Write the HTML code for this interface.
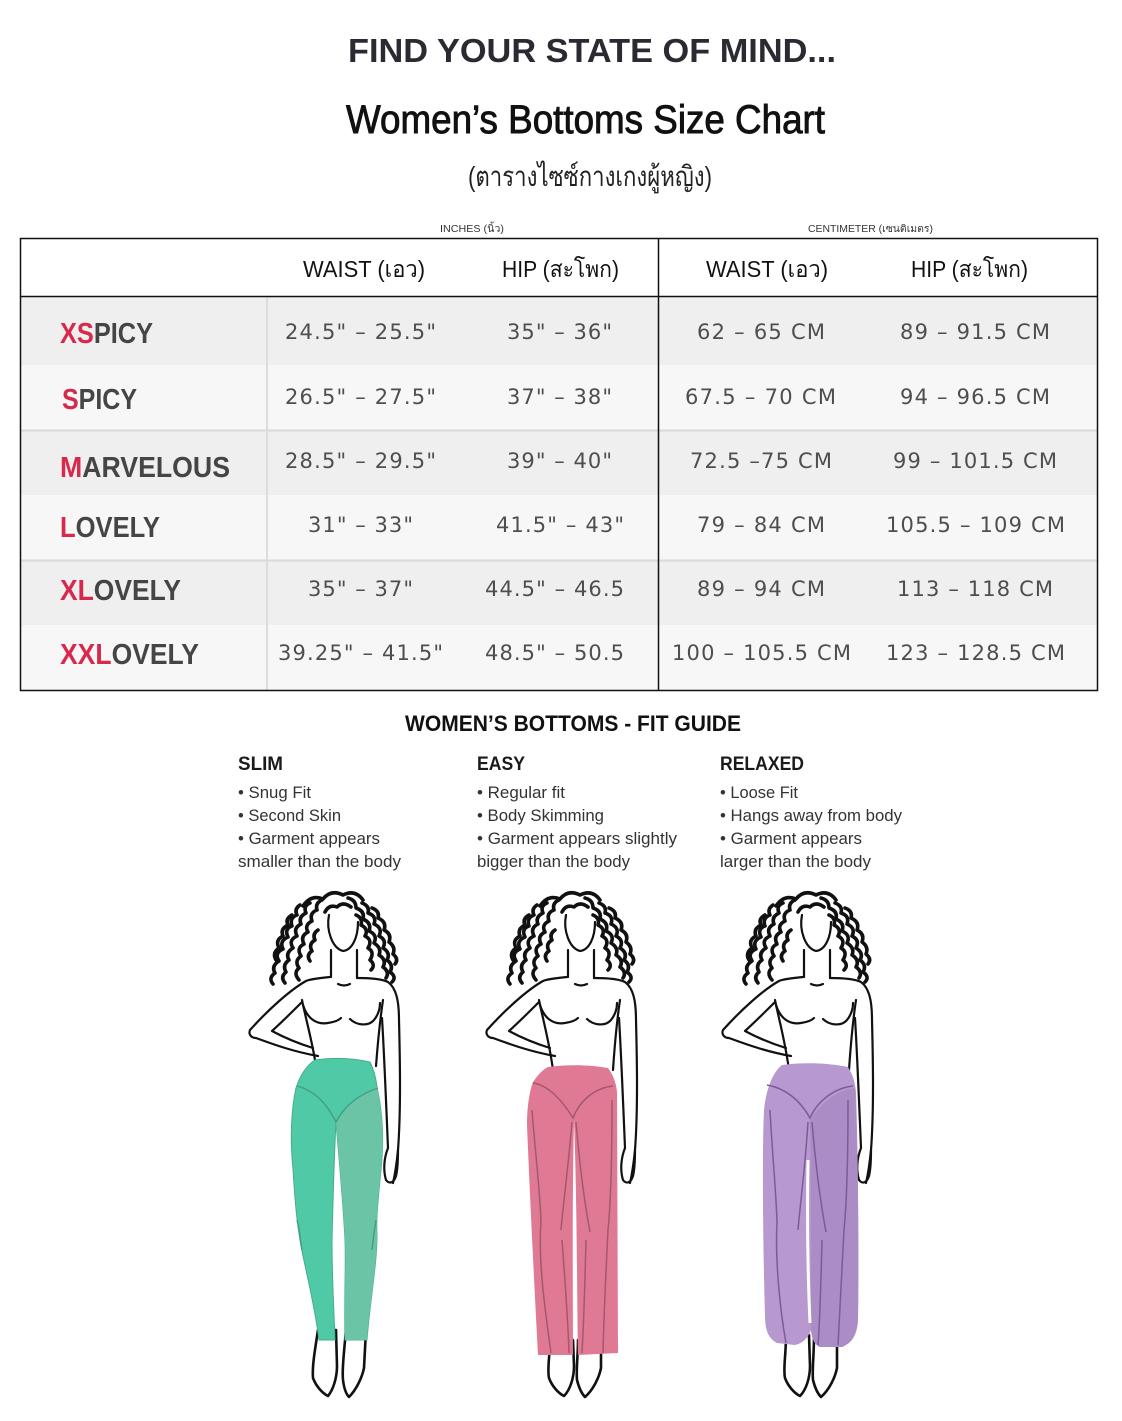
<!DOCTYPE html>
<html>
<head>
<meta charset="utf-8">
<style>
html,body{margin:0;padding:0;background:#fff;}
svg{display:block;}
</style>
</head>
<body>
<svg width="1122" height="1421" viewBox="0 0 1122 1421" xmlns="http://www.w3.org/2000/svg">
<rect x="0" y="0" width="1122" height="1421" fill="#ffffff"/>

<!-- Titles -->
<text x="348" y="62" font-family="Liberation Sans, sans-serif" font-weight="bold" font-size="33" fill="#2a2a33" textLength="488" lengthAdjust="spacingAndGlyphs">FIND YOUR STATE OF MIND...</text>
<text x="346" y="133" font-family="Liberation Sans, sans-serif" font-size="40" fill="#111" stroke="#111" stroke-width="0.9" textLength="479" lengthAdjust="spacingAndGlyphs">Women’s Bottoms  Size Chart</text>
<text x="468" y="186" font-family="Liberation Sans, 'Noto Sans CJK SC', sans-serif" font-size="28" fill="#222" textLength="244" lengthAdjust="spacingAndGlyphs">(ตารางไซซ์กางเกงผู้หญิง)</text>

<text x="440" y="232" font-family="Liberation Sans, 'Noto Sans CJK SC', sans-serif" font-size="10" fill="#333" textLength="64" lengthAdjust="spacingAndGlyphs">INCHES (นิ้ว)</text>
<text x="808" y="232" font-family="Liberation Sans, 'Noto Sans CJK SC', sans-serif" font-size="10" fill="#333" textLength="125" lengthAdjust="spacingAndGlyphs">CENTIMETER (เซนติเมตร)</text>

<!-- Table body backgrounds -->
<rect x="21" y="297" width="1076" height="68" fill="#efefef"/>
<rect x="21" y="365" width="1076" height="65" fill="#f7f7f7"/>
<rect x="21" y="431" width="1076" height="64" fill="#efefef"/>
<rect x="21" y="495" width="1076" height="65" fill="#f7f7f7"/>
<rect x="21" y="561" width="1076" height="64" fill="#efefef"/>
<rect x="21" y="625" width="1076" height="65" fill="#f7f7f7"/>
<line x1="21" y1="430.5" x2="1097" y2="430.5" stroke="#dadada" stroke-width="2"/>
<line x1="21" y1="560.5" x2="1097" y2="560.5" stroke="#dadada" stroke-width="2"/>
<line x1="267" y1="297" x2="267" y2="690" stroke="#dcdcdc" stroke-width="2"/>

<!-- Table borders -->
<rect x="20.5" y="238.5" width="1077" height="452" fill="none" stroke="#111" stroke-width="1.5"/>
<line x1="658.5" y1="238" x2="658.5" y2="691" stroke="#111" stroke-width="1.5"/>
<line x1="20" y1="296.5" x2="1098" y2="296.5" stroke="#111" stroke-width="1.5"/>

<!-- Header -->
<g font-family="Liberation Sans, 'Noto Sans CJK SC', sans-serif" font-size="23" fill="#111">
<text x="303" y="277" textLength="122" lengthAdjust="spacingAndGlyphs">WAIST (เอว)</text>
<text x="502" y="277" textLength="117" lengthAdjust="spacingAndGlyphs">HIP (สะโพก)</text>
<text x="706" y="277" textLength="122" lengthAdjust="spacingAndGlyphs">WAIST (เอว)</text>
<text x="911" y="277" textLength="117" lengthAdjust="spacingAndGlyphs">HIP (สะโพก)</text>
</g>

<!-- Labels -->
<g font-family="Liberation Sans, sans-serif" font-weight="bold" font-size="29" fill="#454545">
<text x="60" y="343" textLength="93" lengthAdjust="spacingAndGlyphs"><tspan fill="#d8284c">XS</tspan>PICY</text>
<text x="62" y="409" textLength="75" lengthAdjust="spacingAndGlyphs"><tspan fill="#d8284c">S</tspan>PICY</text>
<text x="60" y="477" textLength="170" lengthAdjust="spacingAndGlyphs"><tspan fill="#d8284c">M</tspan>ARVELOUS</text>
<text x="60" y="537" textLength="100" lengthAdjust="spacingAndGlyphs"><tspan fill="#d8284c">L</tspan>OVELY</text>
<text x="60" y="600" textLength="121" lengthAdjust="spacingAndGlyphs"><tspan fill="#d8284c">XL</tspan>OVELY</text>
<text x="60" y="664" textLength="139" lengthAdjust="spacingAndGlyphs"><tspan fill="#d8284c">XXL</tspan>OVELY</text>
</g>

<!-- Values -->
<g font-family="DejaVu Sans, sans-serif" font-size="21" fill="#4e4e4e">
<text x="285" y="339" textLength="151">24.5" – 25.5"</text>
<text x="507" y="339" textLength="105">35" – 36"</text>
<text x="697" y="339" textLength="128">62 – 65 CM</text>
<text x="900" y="339" textLength="150">89 – 91.5 CM</text>

<text x="285" y="404" textLength="151">26.5" – 27.5"</text>
<text x="507" y="404" textLength="105">37" – 38"</text>
<text x="685" y="404" textLength="151">67.5 – 70 CM</text>
<text x="900" y="404" textLength="150">94 – 96.5 CM</text>

<text x="285" y="468" textLength="151">28.5" – 29.5"</text>
<text x="507" y="468" textLength="105">39" – 40"</text>
<text x="690" y="468" textLength="142">72.5 –75 CM</text>
<text x="893" y="468" textLength="164">99 – 101.5 CM</text>

<text x="308" y="532" textLength="105">31" – 33"</text>
<text x="496" y="532" textLength="128">41.5" – 43"</text>
<text x="697" y="532" textLength="128">79 – 84 CM</text>
<text x="886" y="532" textLength="179">105.5 – 109 CM</text>

<text x="308" y="596" textLength="105">35" – 37"</text>
<text x="485" y="596" textLength="139">44.5" – 46.5</text>
<text x="697" y="596" textLength="128">89 – 94 CM</text>
<text x="897" y="596" textLength="156">113 – 118 CM</text>

<text x="278" y="660" textLength="165">39.25" – 41.5"</text>
<text x="485" y="660" textLength="139">48.5" – 50.5</text>
<text x="672" y="660" textLength="179">100 – 105.5 CM</text>
<text x="886" y="660" textLength="179">123 – 128.5 CM</text>
</g>

<!-- Fit guide -->
<text x="405" y="731" font-family="Liberation Sans, sans-serif" font-weight="bold" font-size="22" fill="#111" textLength="336" lengthAdjust="spacingAndGlyphs">WOMEN’S BOTTOMS -  FIT GUIDE</text>
<g font-family="Liberation Sans, sans-serif" font-weight="bold" font-size="19" fill="#1a1a1a">
<text x="238" y="770" textLength="45" lengthAdjust="spacingAndGlyphs">SLIM</text>
<text x="477" y="770" textLength="48" lengthAdjust="spacingAndGlyphs">EASY</text>
<text x="720" y="770" textLength="84" lengthAdjust="spacingAndGlyphs">RELAXED</text>
</g>
<g font-family="Liberation Sans, sans-serif" font-size="16.5" fill="#333">
<text x="238" y="798" textLength="73" lengthAdjust="spacingAndGlyphs">• Snug Fit</text>
<text x="238" y="821" textLength="103" lengthAdjust="spacingAndGlyphs">• Second Skin</text>
<text x="238" y="844" textLength="142" lengthAdjust="spacingAndGlyphs">• Garment appears</text>
<text x="238" y="867" textLength="163" lengthAdjust="spacingAndGlyphs">smaller than the body</text>

<text x="477" y="798" textLength="88" lengthAdjust="spacingAndGlyphs">• Regular fit</text>
<text x="477" y="821" textLength="127" lengthAdjust="spacingAndGlyphs">• Body Skimming</text>
<text x="477" y="844" textLength="200" lengthAdjust="spacingAndGlyphs">• Garment appears slightly</text>
<text x="477" y="867" textLength="153" lengthAdjust="spacingAndGlyphs">bigger than the body</text>

<text x="720" y="798" textLength="78" lengthAdjust="spacingAndGlyphs">• Loose Fit</text>
<text x="720" y="821" textLength="182" lengthAdjust="spacingAndGlyphs">• Hangs away from body</text>
<text x="720" y="844" textLength="142" lengthAdjust="spacingAndGlyphs">• Garment appears</text>
<text x="720" y="867" textLength="151" lengthAdjust="spacingAndGlyphs">larger than the body</text>
</g>

<!-- Figure 1 body -->
<g fill="none" stroke="#111" stroke-linecap="round" stroke-linejoin="round">
  <g stroke-width="3.6">
    <path d="M300,905 q-6,4 -3,10 q-8,3 -5,11 q-8,3 -4,11 q-9,4 -5,12 q-9,4 -4,12 q-8,5 -4,12 q-7,5 -2,11"/>
    <path d="M310,903 q-7,3 -4,10 q-8,4 -5,11 q-8,4 -4,12 q-9,4 -4,12 q-8,5 -4,12 q-7,5 -3,12 q-6,5 -1,11"/>
    <path d="M322,900 q-7,3 -5,10 q-8,3 -5,11 q-8,4 -4,11 q-8,4 -4,12 q-8,4 -3,12 q-7,5 -2,12 q-6,5 0,12"/>
    <path d="M348,898 q8,2 8,10 q9,3 7,11 q9,4 6,12 q9,4 5,12 q8,5 5,12 q8,5 4,12 q7,5 3,11"/>
    <path d="M362,903 q8,3 6,10 q9,3 6,11 q9,4 5,12 q8,4 4,12 q8,5 4,12 q7,5 3,12 q7,5 2,10"/>
    <path d="M356,915 q7,3 5,10 q8,4 4,11 q8,4 3,12 q7,4 2,12 q6,5 1,10"/>
    <path d="M372,908 q8,3 6,10 q9,4 6,12 q8,4 5,12 q7,5 4,12 q6,5 2,10"/>
    <path d="M292,915 q-7,4 -4,10 q-8,4 -5,11 q-8,4 -4,12 q-7,5 -3,12"/>
    <path d="M303,906 q8,-12 20,-7 q8,-10 20,-4 q12,-6 20,5"/>
    <path d="M325,912 q4,-8 12,-5 q6,-6 14,0"/>
    <path d="M318,930 q-6,4 -3,10 q-7,4 -3,11 q-6,4 -2,10"/>
  </g>
  <g stroke-width="2.2">
    <path d="M329,915 C326,930 332,948 343,951 C352,950 358,938 358,922"/>
    <path d="M331,950 L331,977"/>
    <path d="M357,950 L357,978"/>
    <path d="M330,977 C320,978 310,979 306,981 C290,990 268,1010 250,1030 C248,1035 252,1038 256,1038 C275,1045 295,1052 318,1056"/>
    <path d="M302,1002 C292,1012 282,1022 272,1031 C285,1038 300,1044 313,1048"/>
    <path d="M302,1000 C306,1020 312,1040 316,1066"/>
    <path d="M357,978 C370,978 382,979 388,982 C396,988 399,1000 399,1020 C400,1060 401,1110 398,1150 C397,1160 396,1170 393,1183"/>
    <path d="M382,1018 C384,1050 386,1100 388,1148"/>
    <path d="M383,1000 C380,1020 378,1040 376,1066"/>
    <path d="M388,1148 C384,1158 383,1170 386,1180 C390,1185 394,1182 396,1176 C398,1168 398,1158 398,1150"/>
    <path d="M303,1005 C307,1018 316,1025 328,1023 C335,1022 339,1020 341,1018"/>
    <path d="M350,1019 C356,1025 368,1027 374,1020 C378,1015 380,1010 380,1003"/>
    <path d="M338,984 q6,3 12,0"/>
  </g>
  <g stroke-width="2.6" fill="#fff">
    <path d="M318,1330 C315,1350 312,1366 313,1378 C316,1386 322,1393 328,1396 C333,1390 337,1378 337,1366 L336,1330 Z"/>
    <path d="M346,1330 C344,1352 342,1370 343,1380 C344,1388 346,1394 349,1397 C356,1390 362,1378 364,1368 L366,1330 Z"/>
  </g>
</g>
<!-- Figure 2 body -->
<g transform="translate(237,0)" fill="none" stroke="#111" stroke-linecap="round" stroke-linejoin="round">
  <g stroke-width="3.6">
    <path d="M300,905 q-6,4 -3,10 q-8,3 -5,11 q-8,3 -4,11 q-9,4 -5,12 q-9,4 -4,12 q-8,5 -4,12 q-7,5 -2,11"/>
    <path d="M310,903 q-7,3 -4,10 q-8,4 -5,11 q-8,4 -4,12 q-9,4 -4,12 q-8,5 -4,12 q-7,5 -3,12 q-6,5 -1,11"/>
    <path d="M322,900 q-7,3 -5,10 q-8,3 -5,11 q-8,4 -4,11 q-8,4 -4,12 q-8,4 -3,12 q-7,5 -2,12 q-6,5 0,12"/>
    <path d="M348,898 q8,2 8,10 q9,3 7,11 q9,4 6,12 q9,4 5,12 q8,5 5,12 q8,5 4,12 q7,5 3,11"/>
    <path d="M362,903 q8,3 6,10 q9,3 6,11 q9,4 5,12 q8,4 4,12 q8,5 4,12 q7,5 3,12 q7,5 2,10"/>
    <path d="M356,915 q7,3 5,10 q8,4 4,11 q8,4 3,12 q7,4 2,12 q6,5 1,10"/>
    <path d="M372,908 q8,3 6,10 q9,4 6,12 q8,4 5,12 q7,5 4,12 q6,5 2,10"/>
    <path d="M292,915 q-7,4 -4,10 q-8,4 -5,11 q-8,4 -4,12 q-7,5 -3,12"/>
    <path d="M303,906 q8,-12 20,-7 q8,-10 20,-4 q12,-6 20,5"/>
    <path d="M325,912 q4,-8 12,-5 q6,-6 14,0"/>
    <path d="M318,930 q-6,4 -3,10 q-7,4 -3,11 q-6,4 -2,10"/>
  </g>
  <g stroke-width="2.2">
    <path d="M329,915 C326,930 332,948 343,951 C352,950 358,938 358,922"/>
    <path d="M331,950 L331,977"/>
    <path d="M357,950 L357,978"/>
    <path d="M330,977 C320,978 310,979 306,981 C290,990 268,1010 250,1030 C248,1035 252,1038 256,1038 C275,1045 295,1052 318,1056"/>
    <path d="M302,1002 C292,1012 282,1022 272,1031 C285,1038 300,1044 313,1048"/>
    <path d="M302,1000 C306,1020 312,1040 316,1070"/>
    <path d="M357,978 C370,978 382,979 388,982 C396,988 399,1000 399,1020 C400,1060 401,1110 398,1150 C397,1160 396,1170 393,1183"/>
    <path d="M382,1018 C384,1050 386,1100 388,1148"/>
    <path d="M383,1000 C380,1020 378,1040 376,1070"/>
    <path d="M388,1148 C384,1158 383,1170 386,1180 C390,1185 394,1182 396,1176 C398,1168 398,1158 398,1150"/>
    <path d="M303,1005 C307,1018 316,1025 328,1023 C335,1022 339,1020 341,1018"/>
    <path d="M350,1019 C356,1025 368,1027 374,1020 C378,1015 380,1010 380,1003"/>
    <path d="M338,984 q6,3 12,0"/>
  </g>
  <g stroke-width="2.6" fill="#fff">
    <path d="M313,1340 C313,1356 310,1368 312,1378 C315,1386 321,1393 327,1396 C333,1390 337,1378 337,1366 L336,1340 Z"/>
    <path d="M341,1340 C341,1356 339,1370 340,1380 C342,1388 345,1394 348,1397 C356,1390 362,1378 364,1368 L364,1340 Z"/>
  </g>
</g>
<!-- Figure 3 body -->
<g transform="translate(473,0)" fill="none" stroke="#111" stroke-linecap="round" stroke-linejoin="round">
  <g stroke-width="3.6">
    <path d="M300,905 q-6,4 -3,10 q-8,3 -5,11 q-8,3 -4,11 q-9,4 -5,12 q-9,4 -4,12 q-8,5 -4,12 q-7,5 -2,11"/>
    <path d="M310,903 q-7,3 -4,10 q-8,4 -5,11 q-8,4 -4,12 q-9,4 -4,12 q-8,5 -4,12 q-7,5 -3,12 q-6,5 -1,11"/>
    <path d="M322,900 q-7,3 -5,10 q-8,3 -5,11 q-8,4 -4,11 q-8,4 -4,12 q-8,4 -3,12 q-7,5 -2,12 q-6,5 0,12"/>
    <path d="M348,898 q8,2 8,10 q9,3 7,11 q9,4 6,12 q9,4 5,12 q8,5 5,12 q8,5 4,12 q7,5 3,11"/>
    <path d="M362,903 q8,3 6,10 q9,3 6,11 q9,4 5,12 q8,4 4,12 q8,5 4,12 q7,5 3,12 q7,5 2,10"/>
    <path d="M356,915 q7,3 5,10 q8,4 4,11 q8,4 3,12 q7,4 2,12 q6,5 1,10"/>
    <path d="M372,908 q8,3 6,10 q9,4 6,12 q8,4 5,12 q7,5 4,12 q6,5 2,10"/>
    <path d="M292,915 q-7,4 -4,10 q-8,4 -5,11 q-8,4 -4,12 q-7,5 -3,12"/>
    <path d="M303,906 q8,-12 20,-7 q8,-10 20,-4 q12,-6 20,5"/>
    <path d="M325,912 q4,-8 12,-5 q6,-6 14,0"/>
    <path d="M318,930 q-6,4 -3,10 q-7,4 -3,11 q-6,4 -2,10"/>
  </g>
  <g stroke-width="2.2">
    <path d="M329,915 C326,930 332,948 343,951 C352,950 358,938 358,922"/>
    <path d="M331,950 L331,977"/>
    <path d="M357,950 L357,978"/>
    <path d="M330,977 C320,978 310,979 306,981 C290,990 268,1010 250,1030 C248,1035 252,1038 256,1038 C275,1045 295,1052 318,1056"/>
    <path d="M302,1002 C292,1012 282,1022 272,1031 C285,1038 300,1044 313,1048"/>
    <path d="M302,1000 C306,1020 312,1040 316,1070"/>
    <path d="M357,978 C370,978 382,979 388,982 C396,988 399,1000 399,1020 C400,1060 401,1110 398,1150 C397,1160 396,1170 393,1183"/>
    <path d="M382,1018 C384,1050 386,1100 388,1148"/>
    <path d="M383,1000 C380,1020 378,1040 376,1070"/>
    <path d="M388,1148 C384,1158 383,1170 386,1180 C390,1185 394,1182 396,1176 C398,1168 398,1158 398,1150"/>
    <path d="M303,1005 C307,1018 316,1025 328,1023 C335,1022 339,1020 341,1018"/>
    <path d="M350,1019 C356,1025 368,1027 374,1020 C378,1015 380,1010 380,1003"/>
    <path d="M338,984 q6,3 12,0"/>
  </g>
  <g stroke-width="2.6" fill="#fff">
    <path d="M313,1335 C313,1356 310,1368 312,1378 C315,1386 321,1393 327,1396 C333,1390 337,1378 337,1366 L336,1335 Z"/>
    <path d="M341,1335 C341,1356 339,1370 340,1380 C342,1388 345,1394 348,1397 C356,1390 362,1378 364,1368 L364,1335 Z"/>
  </g>
</g>

<!-- Fig1 pants (green) -->
<path d="M315,1060 C335,1057 352,1058 370,1062 C374,1070 376,1078 377,1087 C383,1115 384,1140 381,1170 C378,1200 376,1220 377,1235 C377,1265 370,1300 367,1340 L345,1340 C344,1300 346,1265 345,1240 C343,1200 339,1160 336,1122 C334,1160 333,1200 332,1240 C332,1280 334,1310 335,1340 L319,1340 C314,1300 304,1265 300,1240 C296,1215 295,1200 293,1170 C290,1140 291,1110 296,1088 C300,1075 307,1065 315,1060 Z" fill="#50c9a7" stroke="#46ad90" stroke-width="1"/>
<path d="M336,1122 C345,1105 360,1092 377,1087 C383,1115 384,1140 381,1170 C378,1200 376,1220 377,1235 C377,1265 370,1300 367,1340 L345,1340 C344,1300 346,1265 345,1240 C343,1200 339,1160 336,1122 Z" fill="#6bc4a6"/>
<g fill="none" stroke="#3f9e84" stroke-width="1.4">
<path d="M297,1086 C312,1090 325,1100 336,1122 C345,1105 360,1094 378,1088"/>
<path d="M297,1220 C300,1230 300,1240 302,1250"/>
<path d="M376,1220 C374,1232 373,1240 372,1250"/>
</g>

<!-- Fig2 pants (pink) -->
<path d="M548,1067 C570,1064 592,1065 608,1068 C613,1075 616,1082 617,1092 L618,1353 L578,1355 C577,1300 577,1200 574,1120 C572,1200 573,1300 573,1355 L538,1355 C534,1280 530,1200 527,1125 C527,1105 530,1090 533,1082 C538,1075 542,1070 548,1067 Z" fill="#e07a94"/>
<g fill="none" stroke="#a3586c" stroke-width="1.5">
<path d="M533,1083 C548,1085 562,1100 573,1118 C580,1100 595,1088 613,1086"/>
<path d="M532,1110 C535,1150 540,1190 541,1222 C538,1260 545,1310 551,1353"/>
<path d="M572,1122 C568,1170 563,1205 561,1230"/>
<path d="M576,1122 C580,1170 585,1205 590,1232"/>
<path d="M612,1100 C612,1150 611,1200 608,1230 C606,1270 604,1310 603,1353"/>
<path d="M562,1240 C565,1280 568,1320 569,1353"/>
<path d="M586,1240 C585,1280 584,1320 582,1353"/>
</g>

<!-- Fig3 pants (purple) -->
<path d="M782,1065 C805,1062 828,1063 848,1067 C853,1075 855,1082 856,1092 C858,1150 859,1250 858,1320 C857,1335 852,1343 842,1347 L820,1347 C815,1345 812,1340 811,1330 C809,1335 805,1343 795,1345 L777,1343 C768,1338 765,1330 765,1315 C763,1250 762,1150 764,1110 C766,1090 772,1073 782,1065 Z" fill="#b798cf"/>
<path d="M810,1120 C822,1102 838,1090 855,1088 C858,1150 859,1250 858,1320 C857,1335 852,1343 842,1347 L820,1347 C815,1345 812,1340 811,1330 C811,1260 811,1180 810,1120 Z" fill="#ab8cc5"/>
<path d="M808,1160 C807,1220 808,1280 810,1323" fill="none" stroke="#ffffff" stroke-width="3"/>
<g fill="none" stroke="#7c5b98" stroke-width="1.5">
<path d="M767,1085 C785,1088 800,1100 810,1118 C818,1100 835,1088 853,1086"/>
<path d="M770,1110 C772,1150 776,1190 777,1222 C775,1260 780,1310 786,1343"/>
<path d="M808,1122 C805,1170 800,1205 798,1230"/>
<path d="M812,1122 C816,1170 821,1205 826,1232"/>
<path d="M848,1100 C848,1150 847,1200 844,1230 C842,1270 840,1310 838,1345"/>
<path d="M822,1240 C821,1280 820,1320 818,1345"/>
</g>
</svg>
</body>
</html>
